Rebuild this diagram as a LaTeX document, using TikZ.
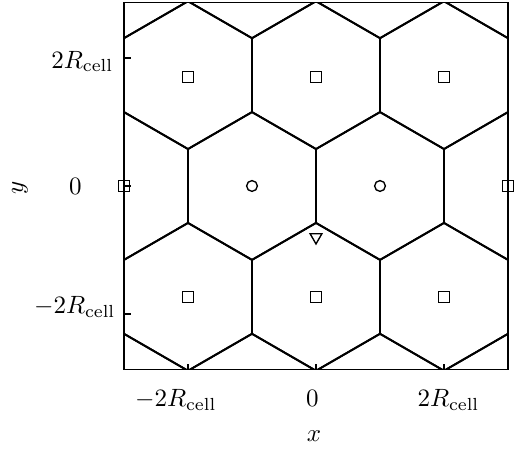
\documentclass[tikz,border=0pt]{standalone}
\usetikzlibrary{shapes.geometric}
\begin{document}
\begin{tikzpicture}[x=25.6pt,y=25.6pt,
  hexline/.style={line width=0.75pt, line join=miter},
  frame/.style={line width=0.6pt},
  tickline/.style={line width=0.5pt},
  sqmark/.style={draw, line width=0.55pt, rectangle, minimum size=4.3pt, inner sep=0pt},
  cimark/.style={draw, line width=0.55pt, circle, minimum size=4.3pt, inner sep=0pt},
  trimark/.style={draw, line width=0.55pt, regular polygon, regular polygon sides=3, shape border rotate=180, minimum size=5.4pt, inner sep=0pt},
  lbl/.style={anchor=base, inner sep=0pt, font=\normalsize}]
\useasboundingbox (-4.9375,-4.094) rectangle (3.09375,2.906);
\begin{scope}
  \clip (-3,-2.87) rectangle (3,2.87);
  \foreach \cx/\cy in {-5/0,-3/0,-1/0,1/0,3/0,5/0,
      -4/1.7321,-2/1.7321,0/1.7321,2/1.7321,4/1.7321,
      -4/-1.7321,-2/-1.7321,0/-1.7321,2/-1.7321,4/-1.7321,
      -3/3.4641,-1/3.4641,1/3.4641,3/3.4641,
      -3/-3.4641,-1/-3.4641,1/-3.4641,3/-3.4641}
    \draw[hexline] (\cx,\cy) +(30:1.1547) -- +(90:1.1547) -- +(150:1.1547) -- +(210:1.1547) -- +(270:1.1547) -- +(330:1.1547) -- cycle;
\end{scope}
\draw[frame] (-3,-2.87) rectangle (3,2.87);
% ticks
\foreach \t in {-2,0,2} {
  \draw[tickline] (-3,\t) -- (-2.89,\t);
  \draw[tickline] (\t,-2.87) -- (\t,-2.78);
}
% markers
\node[cimark] (c1) at (-1,0) {};
\node[cimark] (c2) at (1,0) {};
\node[sqmark] (s1) at (-2,1.70) {};
\node[sqmark] (s2) at (0,1.70) {};
\node[sqmark] (s3) at (2,1.70) {};
\node[sqmark] (s4) at (-2,-1.7321) {};
\node[sqmark] (s5) at (0,-1.7321) {};
\node[sqmark] (s6) at (2,-1.7321) {};
\node[sqmark] (s7) at (-3,0) {};
\node[sqmark] (s8) at (3,0) {};
\node[trimark] (t1) at (0,-0.8) {};
% tick labels
\node[lbl] (xl1) at (-2.19,-3.45) {$-2R_{\mathrm{cell}}$};
\node[lbl] (xl2) at (-0.055,-3.45) {$0$};
\node[lbl] (xl3) at (2.07,-3.45) {$2R_{\mathrm{cell}}$};
\node[lbl] (yl1) at (-3.65,1.84) {$2R_{\mathrm{cell}}$};
\node[lbl] (yl2) at (-3.76,-0.14) {$0$};
\node[lbl] (yl3) at (-3.77,-2.0) {$-2R_{\mathrm{cell}}$};
% axis labels
\node[lbl] (xlab) at (-0.03,-4.0) {$x$};
\node[rotate=90, inner sep=0pt] (ylab) at (-4.625,-0.03) {$y$};
\end{tikzpicture}
\end{document}
